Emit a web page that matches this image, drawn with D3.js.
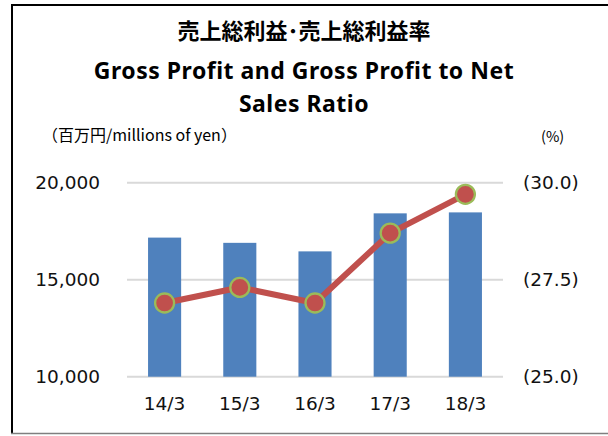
<!DOCTYPE html>
<html>
<head>
<meta charset="utf-8">
<script src="https://cdn.jsdelivr.net/npm/d3@7"></script>
<style>
  body { margin: 0; background: #fff; }
  svg { display: block; }
</style>
</head>
<body>
<div id="chart"></div>
<script>
// data
const categories = ["14/3", "15/3", "16/3", "17/3", "18/3"];
const grossProfit = [17170, 16900, 16460, 18420, 18470];   // 百万円
const grossRatio = [26.9, 27.3, 26.9, 28.7, 29.7];         // %
const leftTicks = [10000, 15000, 20000];
const rightTicks = [25.0, 27.5, 30.0];

const width = 608, height = 436;
const plot = { left: 127, right: 503, top: 182.7, bottom: 376.7 };

const svg = d3.select("#chart")
    .append("svg")
    .attr("width", width)
    .attr("height", height);

// frame
svg.append("line").attr("x1", 12).attr("x2", 612).attr("y1", 5).attr("y2", 5)
    .attr("stroke", "#000").attr("stroke-width", 2);
svg.append("line").attr("x1", 12).attr("x2", 12).attr("y1", 4).attr("y2", 434)
    .attr("stroke", "#000").attr("stroke-width", 2);
svg.append("line").attr("x1", 11).attr("x2", 612).attr("y1", 433.5).attr("y2", 433.5)
    .attr("stroke", "#7f7f7f").attr("stroke-width", 1.5);

// titles
const cjk = "'Noto Sans CJK JP', sans-serif";
svg.append("text")
    .attr("x", 304).attr("y", 39)
    .attr("text-anchor", "middle")
    .style("font-family", cjk)
    .attr("font-weight", "bold")
    .attr("font-size", 22)
    .text("売上総利益･売上総利益率");
svg.append("text")
    .attr("x", 304).attr("y", 78.5)
    .attr("text-anchor", "middle")
    .style("font-family", "'Noto Sans', sans-serif")
    .style("letter-spacing", "0.5px")
    .attr("font-weight", "bold")
    .attr("font-size", 23)
    .text("Gross Profit and Gross Profit to Net");
svg.append("text")
    .attr("x", 304).attr("y", 111.5)
    .attr("text-anchor", "middle")
    .style("font-family", "'Noto Sans', sans-serif")
    .style("letter-spacing", "0.5px")
    .attr("font-weight", "bold")
    .attr("font-size", 23)
    .text("Sales Ratio");

// unit labels
svg.append("text")
    .attr("x", 42).attr("y", 141)
    .style("font-family", cjk)
    .attr("font-size", 16)
    .text("（百万円/millions of yen）");
svg.append("text")
    .attr("x", 541).attr("y", 142)
    .style("font-family", cjk)
    .attr("font-size", 14.5)
    .text("(%)");

/** scales */
let x = d3.scaleBand()
    .domain(categories)
    .range([plot.left, plot.right])
    .paddingInner(0.56)
    .paddingOuter(0.28);

let yLeft = d3.scaleLinear()
    .domain([10000, 20000])
    .range([plot.bottom, plot.top]);

let yRight = d3.scaleLinear()
    .domain([25, 30])
    .range([plot.bottom, plot.top]);

const tickFont = "'DejaVu Sans'", tickSize = 18.5;

// grid
svg.append("g")
    .attr("class", "grid")
    .selectAll("line")
    .data(leftTicks)
    .join("line")
    .attr("x1", plot.left)
    .attr("x2", plot.right)
    .attr("y1", d => yLeft(d))
    .attr("y2", d => yLeft(d))
    .attr("stroke", "#d9d9d9")
    .attr("stroke-width", 2);

function styleAxis(g) {
    g.select(".domain").remove();
    g.attr("font-family", null).attr("font-size", null);
    g.selectAll("text")
        .style("font-family", tickFont)
        .style("font-size", tickSize + "px")
        .attr("fill", "#111");
}

// left axis
let axisLeft = d3.axisLeft(yLeft)
    .tickValues(leftTicks)
    .tickSize(0)
    .tickPadding(0)
    .tickFormat(d3.format(","));
svg.append("g")
    .attr("transform", "translate(100,0)")
    .call(axisLeft)
    .call(styleAxis);

// right axis
let axisRight = d3.axisRight(yRight)
    .tickValues(rightTicks)
    .tickSize(0)
    .tickPadding(0)
    .tickFormat(d => "(" + d3.format(".1f")(d) + ")");
svg.append("g")
    .attr("transform", "translate(523,0)")
    .call(axisRight)
    .call(styleAxis);

// bottom axis
let axisBottom = d3.axisBottom(x).tickSize(0).tickPadding(0);
svg.append("g")
    .attr("transform", "translate(0,397)")
    .call(axisBottom)
    .call(styleAxis);

/* bars */
svg.append("g")
    .attr("class", "bars")
    .selectAll("rect")
    .data(grossProfit)
    .join("rect")
    .attr("x", (d, i) => x(categories[i]))
    .attr("y", d => yLeft(d))
    .attr("width", x.bandwidth())
    .attr("height", d => yLeft(10000) - yLeft(d))
    .attr("fill", "#4f81bd");

/* ratio line */
const cx = i => x(categories[i]) + x.bandwidth() / 2;
svg.append("path")
    .datum(grossRatio)
    .attr("fill", "none")
    .attr("stroke", "#c0504d")
    .attr("stroke-width", 6)
    .attr("stroke-linejoin", "round")
    .attr("d", d3.line().x((d, i) => cx(i)).y(d => yRight(d)));

svg.append("g")
    .attr("class", "markers")
    .selectAll("circle")
    .data(grossRatio)
    .join("circle")
    .attr("cx", (d, i) => cx(i))
    .attr("cy", d => yRight(d))
    .attr("r", 9.5)
    .attr("fill", "#c0504d")
    .attr("stroke", "#9bbb59")
    .attr("stroke-width", 2.3);
</script>
</body>
</html>
